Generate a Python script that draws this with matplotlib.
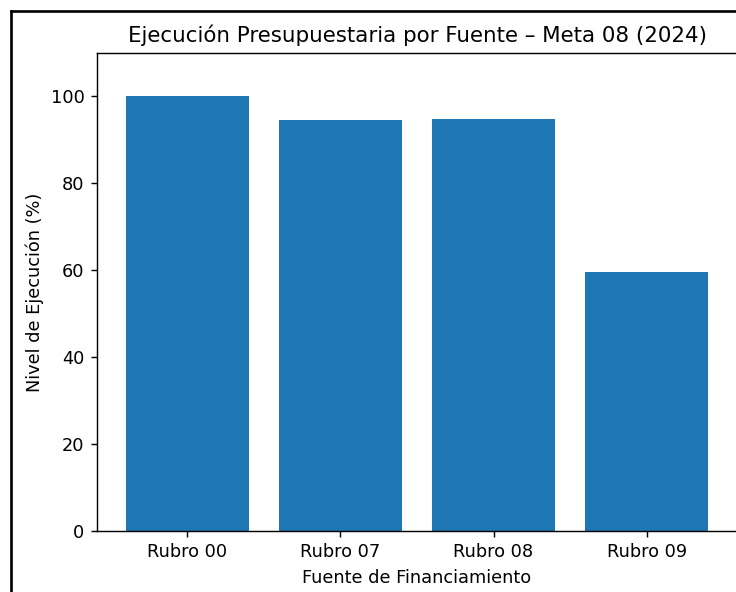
import matplotlib
matplotlib.use("Agg")
import matplotlib.pyplot as plt
from matplotlib.lines import Line2D

categorias = ["Rubro 00", "Rubro 07", "Rubro 08", "Rubro 09"]
ejecucion = [100.0, 94.5, 94.7, 59.7]

W, H = 736, 592
DPI = 128
fig = plt.figure(figsize=(W / DPI, H / DPI), dpi=DPI)

# axes placement in pixels (left, right, top, bottom)
L, R, T, B = 97, 737, 53, 531
ax = fig.add_axes([L / W, 1 - B / H, (R - L) / W, (B - T) / H])
ax.bar(categorias, ejecucion, color="#1f77b4")
ax.set_ylim(0, 110)
ax.set_title("Ejecución Presupuestaria por Fuente – Meta 08 (2024)")
ax.set_xlabel("Fuente de Financiamiento")
ax.set_ylabel("Nivel de Ejecución (%)")

# screenshot frame lines (left and top)
fig.add_artist(Line2D([11 / W, 11 / W], [0, 1 - 11 / H], color="black", lw=1.5,
                      transform=fig.transFigure))
fig.add_artist(Line2D([11 / W, 1], [1 - 11 / H, 1 - 11 / H], color="black", lw=1.5,
                      transform=fig.transFigure))

fig.savefig("out.png", dpi=DPI)
